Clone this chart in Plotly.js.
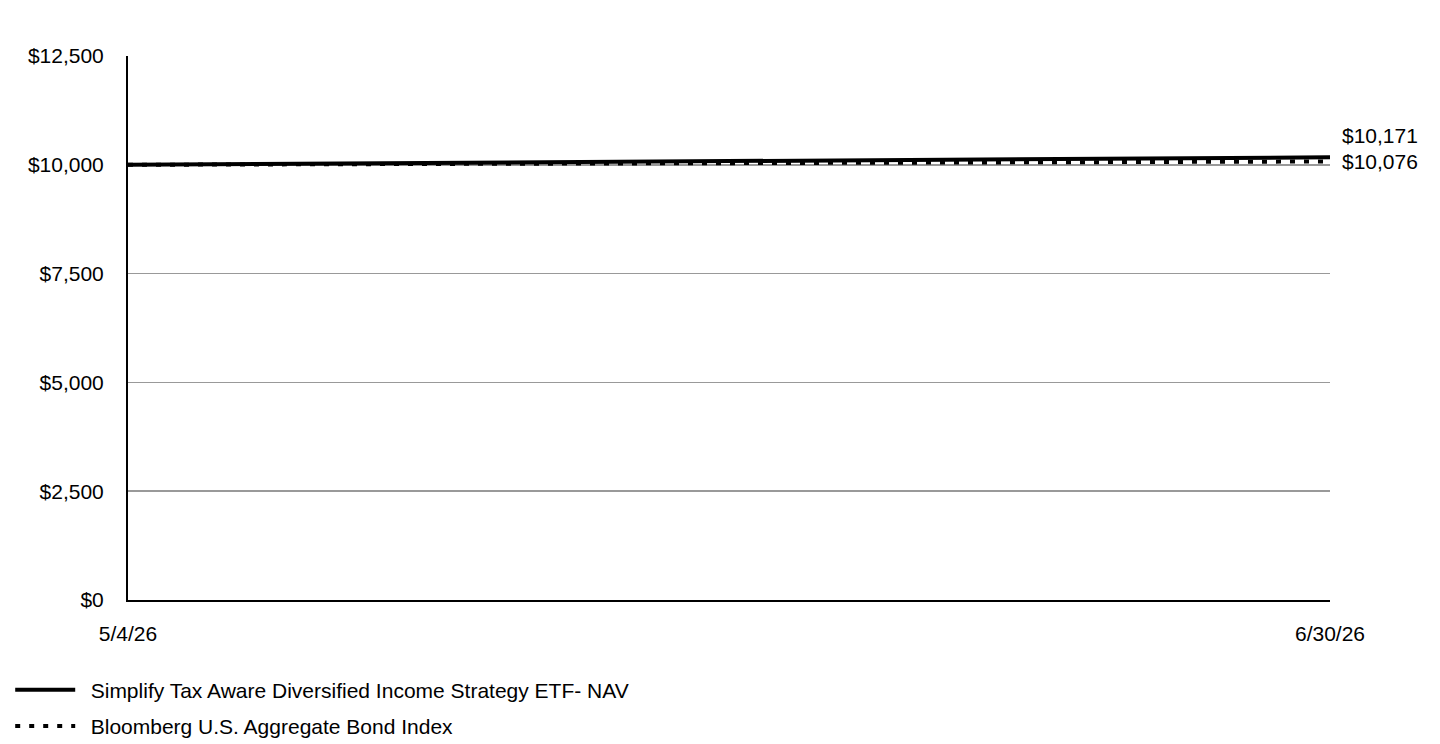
<!DOCTYPE html>
<html><head><meta charset="utf-8">
<script src="https://cdn.plot.ly/plotly-3.0.1.min.js"></script>
<style>html,body{margin:0;padding:0;background:#fff}#chart{width:1440px;height:744px}</style>
</head><body><div id="chart"></div>
<script>
const dates = ['5/4/26', '6/30/26'];
const fundName = 'Simplify Tax Aware Diversified Income Strategy ETF- NAV';
const fundValues = [10000, 10171];
const indexName = 'Bloomberg U.S. Aggregate Bond Index';
const indexValues = [10000, 10076];
const yTicks = [0, 2500, 5000, 7500, 10000, 12500];

const fmt = v => '$' + v.toLocaleString('en-US');
const pad = '\u2002';

const traces = [
  {x: dates, y: fundValues, name: pad + fundName, legendgroup: 'a', mode: 'lines', type: 'scatter',
   line: {color: '#000', width: 4}},
  {x: dates, y: indexValues, name: pad + indexName, legendgroup: 'b', mode: 'lines', type: 'scatter',
   line: {color: '#000', width: 4, dash: '5px,9px'}}
];

const layout = {
  width: 1440, height: 744,
  margin: {l: 128, r: 110, t: 56, b: 144, autoexpand: false},
  paper_bgcolor: '#fff', plot_bgcolor: '#fff',
  font: {family: 'Liberation Sans, Arial, sans-serif', size: 21, color: '#000'},
  showlegend: true,
  legend: {x: -0.098, xanchor: 'left', y: -0.128, yanchor: 'top',
           font: {size: 21}, tracegroupgap: 6, itemwidth: 60, traceorder: 'grouped',
           bgcolor: 'rgba(0,0,0,0)'},
  xaxis: {type: 'category', range: [0, 1], showgrid: false, zeroline: false,
          showline: true, linecolor: '#000', linewidth: 2, ticks: '',
          ticklabelstandoff: 14, automargin: false, fixedrange: true},
  yaxis: {range: [0, 12500], tickvals: yTicks, ticktext: yTicks.map(fmt),
          showgrid: true, gridcolor: '#999', gridwidth: 1.5, zeroline: false,
          showline: true, linecolor: '#000', linewidth: 2, ticks: '',
          ticklabelstandoff: 18, automargin: false, fixedrange: true},
  annotations: [
    {x: 1, xref: 'paper', y: fundValues[1], yref: 'y', text: fmt(fundValues[1]),
     showarrow: false, xanchor: 'left', xshift: 10, yshift: 22, font: {size: 21}},
    {x: 1, xref: 'paper', y: indexValues[1], yref: 'y', text: fmt(indexValues[1]),
     showarrow: false, xanchor: 'left', xshift: 10, yshift: 0, font: {size: 21}}
  ]
};

Plotly.newPlot('chart', traces, layout, {displayModeBar: false, staticPlot: true});
</script></body></html>
